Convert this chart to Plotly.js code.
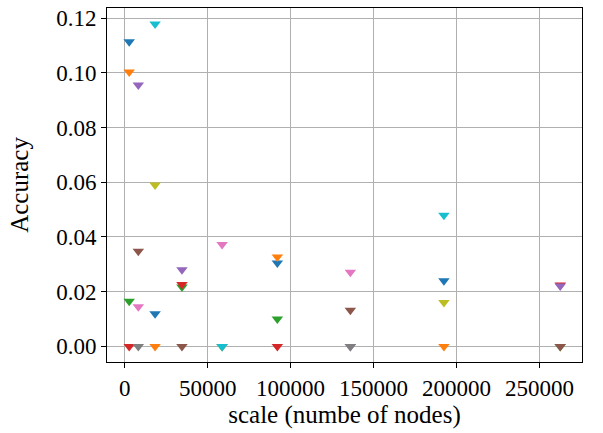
<!DOCTYPE html>
<html>
<head>
<meta charset="utf-8">
<script src="https://cdn.plot.ly/plotly-3.0.1.min.js"></script>
<style>
html, body { margin: 0; padding: 0; background: #fff; }
#chart { width: 603px; height: 433px; }
</style>
</head>
<body>
<div id="chart"></div>
<script>
// scale (number of nodes) for each dataset
const scales = [2700, 8200, 18300, 34500, 58700, 92000, 136000, 192400, 262500];
// accuracy of four methods at each scale
const method1 = [0.1113, 0.0955, 0.0590, 0.0217, 0.0372, 0.0305, 0.0, 0.0160, 0.0];
const method2 = [0.1003, 0.0348, 0.1178, 0.0226, 0.0, 0.0327, 0.0132, 0.0479, 0.0224];
const method3 = [0.0165, 0.0145, 0.0119, 0.0280, 0.0, 0.0100, 0.0271, 0.0240, 0.0221];
const method4 = [0.0, 0.0, 0.0, 0.0, 0.0, 0.0, 0.0, 0.0, 0.0];
const xTickVals = [0, 50000, 100000, 150000, 200000, 250000];
const yTickVals = [0.00, 0.02, 0.04, 0.06, 0.08, 0.10, 0.12];

const palette = ['#1f77b4', '#ff7f0e', '#2ca02c', '#d62728', '#9467bd',
                 '#8c564b', '#e377c2', '#7f7f7f', '#bcbd22', '#17becf'];
const methods = [method1, method2, method3, method4];

const traces = methods.map((vals, m) => ({
  type: 'scatter',
  mode: 'markers',
  x: scales,
  y: vals,
  marker: {
    symbol: 'triangle-down',
    size: 10,
    color: scales.map((_, s) => palette[(s * 4 + m) % 10]),
    line: { width: 0 }
  },
  showlegend: false,
  hoverinfo: 'x+y'
}));

const family = 'Liberation Serif, Times New Roman, serif';
const tickFont = { family: family, size: 23, color: '#000' };
const titleFont = { family: family, size: 25, color: '#000' };

const layout = {
  width: 603,
  height: 433,
  margin: { l: 107, r: 21, t: 8, b: 71, pad: 0 },
  paper_bgcolor: '#fff',
  plot_bgcolor: '#fff',
  font: tickFont,
  showlegend: false,
  xaxis: {
    range: [-10680, 275630],
    tickvals: xTickVals,
    tickformat: 'd',
    ticks: 'outside',
    ticklen: 5,
    tickwidth: 1,
    tickcolor: '#000',
    showline: true,
    mirror: true,
    linecolor: '#000',
    linewidth: 1,
    showgrid: true,
    gridcolor: '#b0b0b0',
    gridwidth: 1,
    zeroline: false,
    tickfont: tickFont,
    title: { text: 'scale (numbe of nodes)', font: titleFont, standoff: 0 }
  },
  yaxis: {
    range: [-0.00571, 0.12366],
    tickvals: yTickVals,
    tickformat: '.2f',
    ticks: 'outside',
    ticklen: 5,
    tickwidth: 1,
    tickcolor: '#000',
    showline: true,
    mirror: true,
    linecolor: '#000',
    linewidth: 1,
    showgrid: true,
    gridcolor: '#b0b0b0',
    gridwidth: 1,
    zeroline: false,
    tickfont: tickFont,
    title: { text: 'Accuracy', font: titleFont, standoff: 20 }
  }
};

Plotly.newPlot('chart', traces, layout, { displayModeBar: false, staticPlot: true });
</script>
</body>
</html>
